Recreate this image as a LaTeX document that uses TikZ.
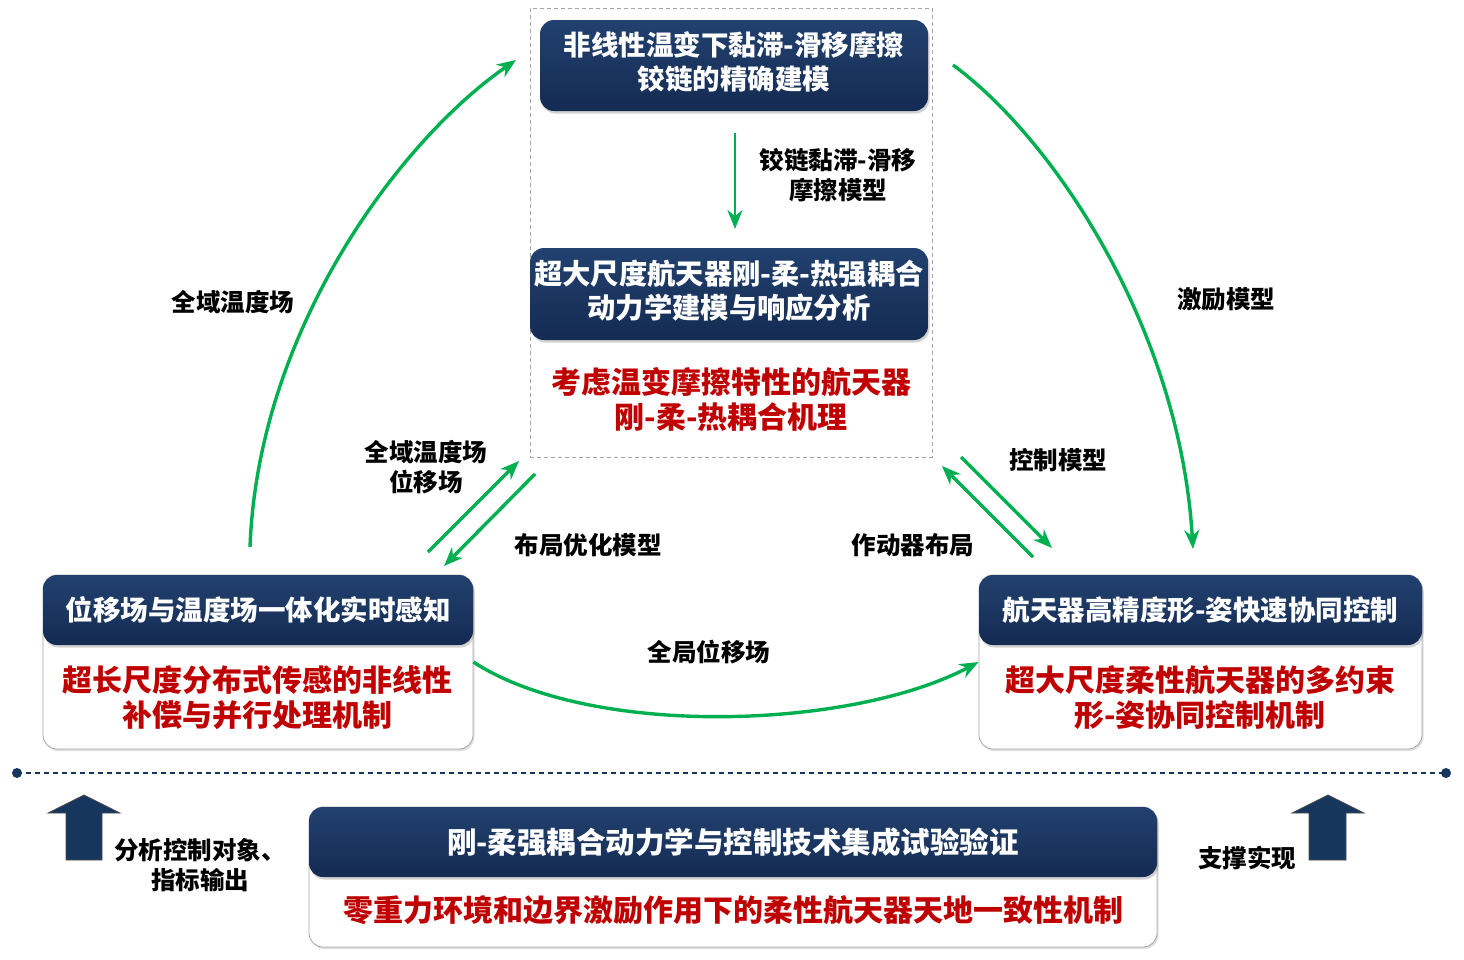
\documentclass[tikz,border=0pt]{standalone}
\usepackage{fontspec}
\setmainfont{Noto Sans CJK SC}
\usetikzlibrary{arrows.meta,shadows}
\definecolor{navyA}{HTML}{22416F}
\definecolor{navyB}{HTML}{142B52}
\definecolor{navy}{HTML}{17365D}
\definecolor{grn}{HTML}{00B050}
\definecolor{darkred}{HTML}{C00000}
\definecolor{frame}{HTML}{A6A6A6}
\begin{document}
\begin{tikzpicture}[x=1pt,y=-1pt,
  hdr/.style={rounded corners=14pt, top color=navyA, bottom color=navyB, draw=none, text=white,
    font=\bfseries\fontsize{27.5}{32}\selectfont, align=center, inner sep=0pt,
    drop shadow={shadow xshift=1.5pt, shadow yshift=-2.5pt, opacity=0.35}},
  card/.style={rounded corners=14pt, fill=white, draw=black!35, line width=0.8pt, inner sep=0pt,
    drop shadow={shadow xshift=1.5pt, shadow yshift=-2pt, opacity=0.25}},
  redtxt/.style={text=darkred, font=\bfseries\fontsize{30}{35}\selectfont, align=center, inner sep=0pt},
  lbl/.style={font=\bfseries\fontsize{24.5}{30}\selectfont, align=center, inner sep=0pt},
  garrow/.style={draw=grn, line width=3.4pt, -{Stealth[length=19pt,width=15pt]}},
  blockarrow/.style={fill=navy, draw=black!70, line width=0.8pt}
]
\useasboundingbox (0,0) rectangle (1464,959);
\fill[white] (0,0) rectangle (1464,959);

% dashed group frame
\node[draw=frame, dash pattern=on 4pt off 3pt, line width=0.9pt, minimum width=402, minimum height=449, inner sep=0pt] (grp) at (731,232.5) {};

% top boxes
\node[hdr, minimum width=388, minimum height=91] (t1) at (734,65.5) {\raisebox{2pt}{\begin{tabular}{@{}c@{}}非线性温变下黏滞-滑移摩擦\\铰链的精确建模\end{tabular}}};
\node[hdr, minimum width=398, minimum height=92, font=\bfseries\fontsize{28.3}{33}\selectfont] (t2) at (729,294) {\raisebox{1pt}{\begin{tabular}{@{}c@{}}超大尺度航天器刚-柔-热强耦合\\动力学建模与响应分析\end{tabular}}};
\node[redtxt] (r2) at (731,399) {考虑温变摩擦特性的航天器\\刚-柔-热耦合机理};

% left card
\node[card, minimum width=430, minimum height=174] (c1) at (258,662) {};
\node[hdr, minimum width=430, minimum height=70] (h1) at (258,610) {位移场与温度场一体化实时感知};
\node[redtxt] (r1) at (257,697.5) {超长尺度分布式传感的非线性\\补偿与并行处理机制};

% right card
\node[card, minimum width=443, minimum height=174] (c3) at (1200.5,662) {};
\node[hdr, minimum width=443, minimum height=70] (h3) at (1200.5,610) {航天器高精度形-姿快速协同控制};
\node[redtxt] (r3) at (1200,697.5) {超大尺度柔性航天器的多约束\\形-姿协同控制机制};

% bottom card
\node[card, minimum width=848, minimum height=140] (c4) at (733,877) {};
\node[hdr, minimum width=848, minimum height=70, font=\bfseries\fontsize{29.5}{34}\selectfont] (h4) at (733,842) {刚-柔强耦合动力学与控制技术集成试验验证};
\node[redtxt] (r4) at (733,910) {零重力环境和边界激励作用下的柔性航天器天地一致性机制};

% separator
\coordinate (sepL) at (17,773);
\coordinate (sepR) at (1446,773);
\draw[navy, line width=2.5pt, dash pattern=on 5pt off 4pt] (sepL) -- (sepR);
\fill[navy] (sepL) circle (5pt);
\fill[navy] (sepR) circle (5pt);

% block arrows
\draw[blockarrow] (66,860) -- (66,813) -- (48,813) -- (84,795) -- (120,813) -- (102,813) -- (102,860) -- cycle;
\draw[blockarrow] (1309,860) -- (1309,813) -- (1292,813) -- (1328,795) -- (1364,813) -- (1346,813) -- (1346,860) -- cycle;

% labels
\node[lbl] (l1) at (233,302) {全域温度场};
\node[lbl] (l2) at (1226,299) {激励模型};
\node[lbl] (l3) at (709,652) {全局位移场};
\node[lbl] (l4) at (838,175) {铰链黏滞-滑移\\摩擦模型};
\node[lbl] (l5) at (426,467) {全域温度场\\位移场};
\node[lbl] (l6) at (588,545) {布局优化模型};
\node[lbl] (l7) at (1058,460) {控制模型};
\node[lbl] (l8) at (913,545) {作动器布局};
\node[lbl] (l9) at (200,865) {分析控制对象、\\指标输出};
\node[lbl] (l10) at (1247,858) {支撑实现};

% arrow end points
\coordinate (a1s) at (735,133);
\coordinate (a1e) at (735,229);
\coordinate (cL1) at (250,547);
\coordinate (cL2) at (516,60);
\coordinate (cR1) at (953,65);
\coordinate (cR2) at (1193,549);
\coordinate (s1a) at (428,552);
\coordinate (s1b) at (519,461);
\coordinate (s2a) at (535,474);
\coordinate (s2b) at (444,566);
\coordinate (s3a) at (1033,557);
\coordinate (s3b) at (942,466);
\coordinate (s4a) at (961,457);
\coordinate (s4b) at (1052,548);

% green arrows
\draw[garrow, line width=2.8pt] (a1s) -- (a1e);
\draw[garrow] (cL1) .. controls (258,330) and (400,140) .. (cL2);
\draw[garrow] (cR1) .. controls (1055,140) and (1180,330) .. (cR2);
\draw[garrow] (c1.east) .. controls (590,738) and (850,730) .. (c3.west);
\draw[garrow] (s1a) -- (s1b);
\draw[garrow] (s2a) -- (s2b);
\draw[garrow] (s3a) -- (s3b);
\draw[garrow] (s4a) -- (s4b);
\end{tikzpicture}
\end{document}
